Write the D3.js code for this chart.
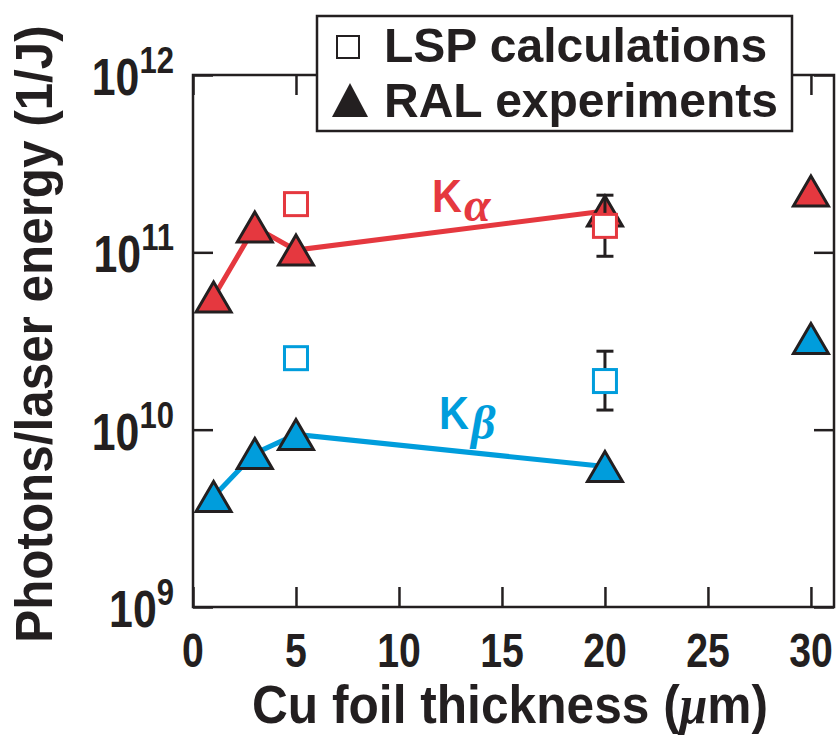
<!DOCTYPE html>
<html>
<head>
<meta charset="utf-8">
<script src="https://cdn.jsdelivr.net/npm/d3@7"></script>
<style>
  body { margin: 0; background: #fff; }
  svg text { font-family: "Liberation Sans", Arial, sans-serif; font-weight: bold; fill: #231f20; }
</style>
</head>
<body>
<svg id="plot" width="838" height="743"></svg>
<script>
// data
var xTicks = [0, 5, 10, 15, 20, 25, 30];
var yTicks = [1e9, 1e10, 1e11, 1e12];
var yTickExp = ["9", "10", "11", "12"];

// RAL experiments (triangles)
var ralThick = [1, 3, 5, 20, 30];
var ralKalpha = [5.6e10, 1.39e11, 1.03e11, 1.71e11, 2.22e11];
var ralKbeta = [4.2e9, 7.35e9, 9.4e9, 6.2e9, 3.27e10];
// how many of the RAL points are joined by the line
var lineCount = 4;

// LSP calculations (open squares)
var lspThick = [5, 20];
var lspKalpha = [1.87e11, 1.41e11];
var lspKbeta = [2.53e10, 1.88e10];
// error bars on the 20 um calculations
var errThick = [20];
var errKalphaLow = [9.5e10], errKalphaHigh = [2.1e11];
var errKbetaLow = [1.29e10], errKbetaHigh = [2.77e10];

var red = "#e5383f", blue = "#009ddc", ink = "#231f20";

var svg = d3.select("#plot");
// plot frame in pixels (careful: "top" is taken by window.top)
var frameL = 193, frameR = 834, frameT = 75, frameB = 607;

var x = d3.scaleLinear().domain([0, 31.12]).range([frameL, frameR]);
var y = d3.scaleLog().domain([1e9, 1e12]).range([frameB, frameT]);

// text helper: place and squeeze horizontally (figure uses a condensed bold face)
function ctext(px, py, sx) {
    return svg.append("text")
        .attr("transform", "translate(" + px + "," + py + ") scale(" + sx + ",1)");
}

// frame
svg.append("rect")
    .attr("x", frameL).attr("y", frameT)
    .attr("width", frameR - frameL).attr("height", frameB - frameT)
    .attr("fill", "none").attr("stroke", ink).attr("stroke-width", 2.5);

// inward ticks on all four sides
function tickStyle(g) {
    g.select(".domain").remove();
    g.selectAll(".tick line").attr("stroke", ink).attr("stroke-width", 2.5);
    g.selectAll(".tick text").remove();
}
svg.append("g").attr("transform", "translate(0," + frameB + ")")
    .call(d3.axisBottom(x).tickValues(xTicks).tickSize(-20)).call(tickStyle);
svg.append("g").attr("transform", "translate(0," + frameT + ")")
    .call(d3.axisTop(x).tickValues(xTicks).tickSize(-20)).call(tickStyle);
svg.append("g").attr("transform", "translate(" + frameL + ",0)")
    .call(d3.axisLeft(y).tickValues(yTicks).tickSize(-20)).call(tickStyle);
svg.append("g").attr("transform", "translate(" + frameR + ",0)")
    .call(d3.axisRight(y).tickValues(yTicks).tickSize(-20)).call(tickStyle);

// x tick labels
xTicks.forEach(function(d) {
    ctext(x(d), 667, 0.8)
        .attr("text-anchor", "middle")
        .style("font-size", "49px")
        .text(d);
});

// y tick labels 10^n
yTicks.forEach(function(d, i) {
    var t = ctext(174, y(d) + 20, 0.84)
        .attr("text-anchor", "end")
        .style("font-size", "51px");
    t.append("tspan").text("10");
    t.append("tspan").attr("dy", -22).style("font-size", "37px").text(yTickExp[i]);
});

// axis titles
var xt = ctext(510, 723, 0.92)
    .attr("text-anchor", "middle")
    .style("font-size", "54px");
xt.append("tspan").text("Cu foil thickness (");
xt.append("tspan").style("font-family", "'Liberation Serif', serif").style("font-style", "italic").text("μ");
xt.append("tspan").text("m)");

svg.append("text")
    .attr("transform", "translate(52,334) rotate(-90) scale(0.95,1)")
    .attr("text-anchor", "middle")
    .style("font-size", "52px")
    .text("Photons/laser energy (1/J)");

// connecting lines
var line = d3.line()
    .x(function(d) { return x(d[0]); })
    .y(function(d) { return y(d[1]); });
svg.append("path")
    .attr("d", line(d3.zip(ralThick, ralKalpha).slice(0, lineCount)))
    .attr("fill", "none").attr("stroke", red).attr("stroke-width", 5);
svg.append("path")
    .attr("d", line(d3.zip(ralThick, ralKbeta).slice(0, lineCount)))
    .attr("fill", "none").attr("stroke", blue).attr("stroke-width", 5);

// triangles
var tri = "M0,-15L17.5,15L-17.5,15Z";
function triangles(vals, color) {
    svg.append("g").selectAll("path").data(d3.zip(ralThick, vals)).enter().append("path")
        .attr("d", tri)
        .attr("transform", function(d) { return "translate(" + x(d[0]) + "," + y(d[1]) + ")"; })
        .attr("fill", color).attr("stroke", ink).attr("stroke-width", 3);
}
triangles(ralKalpha, red);
triangles(ralKbeta, blue);

// error bars
function errbars(lo, hi) {
    var g = svg.append("g").attr("stroke", ink).attr("stroke-width", 3);
    errThick.forEach(function(t, i) {
        g.append("line").attr("x1", x(t)).attr("x2", x(t)).attr("y1", y(lo[i])).attr("y2", y(hi[i]));
        g.append("line").attr("x1", x(t) - 8.5).attr("x2", x(t) + 8.5).attr("y1", y(lo[i])).attr("y2", y(lo[i]));
        g.append("line").attr("x1", x(t) - 8.5).attr("x2", x(t) + 8.5).attr("y1", y(hi[i])).attr("y2", y(hi[i]));
    });
}
errbars(errKalphaLow, errKalphaHigh);
errbars(errKbetaLow, errKbetaHigh);

// squares
function squares(vals, color) {
    svg.append("g").selectAll("rect").data(d3.zip(lspThick, vals)).enter().append("rect")
        .attr("x", function(d) { return x(d[0]) - 11.5; })
        .attr("y", function(d) { return y(d[1]) - 11.5; })
        .attr("width", 23).attr("height", 23)
        .attr("fill", "#fff").attr("stroke", color).attr("stroke-width", 3);
}
squares(lspKalpha, red);
squares(lspKbeta, blue);

// series labels: K with greek subscript
function kLabel(px, py, greek, subDy, color) {
    ctext(px, py, 0.88).style("font-size", "47px").style("fill", color).text("K");
    svg.append("text")
        .attr("x", px + 32).attr("y", py + subDy)
        .style("font-family", "'Liberation Serif', serif")
        .style("font-style", "italic")
        .style("font-size", "48px")
        .style("fill", color)
        .text(greek);
}
kLabel(432, 212, "α", 9, red);
kLabel(439, 429, "β", 10, blue);

// legend
svg.append("rect")
    .attr("x", 317).attr("y", 16).attr("width", 475).attr("height", 115)
    .attr("fill", "#fff").attr("stroke", ink).attr("stroke-width", 2.5);
svg.append("rect")
    .attr("x", 337).attr("y", 36).attr("width", 22).attr("height", 22)
    .attr("fill", "#fff").attr("stroke", ink).attr("stroke-width", 2);
svg.append("path")
    .attr("d", "M0,-17L18,17L-18,17Z")
    .attr("transform", "translate(350,100)")
    .attr("fill", ink);
ctext(384, 62, 0.98).style("font-size", "49px").text("LSP calculations");
ctext(384, 117, 0.98).style("font-size", "49px").text("RAL experiments");
</script>
</body>
</html>
